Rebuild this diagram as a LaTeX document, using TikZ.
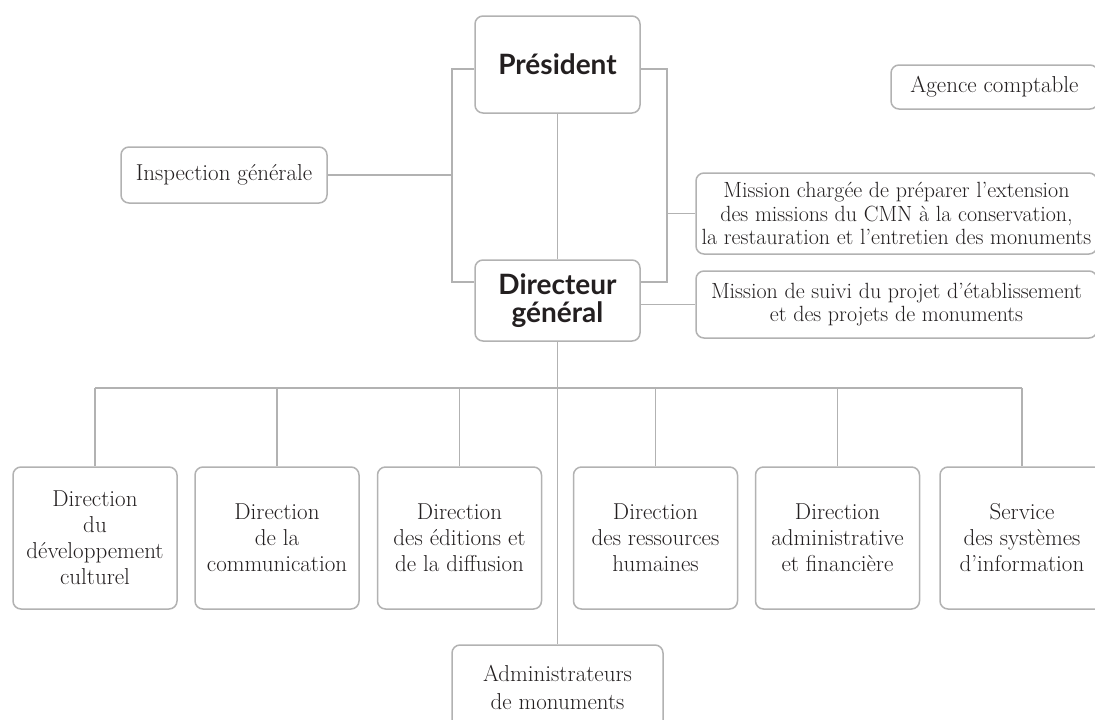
\documentclass[tikz,border=0pt]{standalone}
\usepackage{fontspec}
\newfontfamily\boldsans{Lato}
\usetikzlibrary{calc}
\definecolor{linegray}{RGB}{178,178,178}
\definecolor{txt}{RGB}{35,31,32}
\tikzset{
  box/.style={draw=linegray, line width=1.5pt, rounded corners=8pt, fill=white,
    text=txt, align=center, inner sep=0pt,
    font=\fontsize{23}{25}\selectfont},
  headbox/.style={box, font=\boldsans\bfseries\fontsize{28}{28}\selectfont},
  lowbox/.style={box, minimum width=164pt, minimum height=142pt, font=\fontsize{23}{26}\selectfont},
  missionbox/.style={box, minimum width=401pt, font=\fontsize{22}{23.5}\selectfont},
  conn/.style={draw=linegray, line width=1.5pt},
}
\begin{document}
\begin{tikzpicture}[x=1pt,y=-1pt]
\useasboundingbox (0,0) rectangle (1095,720);
\clip (0,0) rectangle (1095,720);
% top level
\node[headbox, minimum width=165pt, minimum height=97pt] (pres) at (557.5,64.5) {Président};
\node[headbox, minimum width=165pt, minimum height=81pt] (dg) at (557.5,300.5) {Directeur\\général};
\node[box, minimum width=206pt, minimum height=56pt] (insp) at (224,175) {Inspection générale};
\node[box, minimum width=207pt, minimum height=44pt] (agence) at (994.5,87) {Agence comptable};
\node[missionbox, minimum height=81pt] (mch) at (896.5,213.5) {Mission chargée de préparer l’extension\\des missions du CMN à la conservation,\\la restauration et l’entretien des monuments};
\node[missionbox, minimum height=67pt] (msuivi) at (896.5,304.5) {Mission de suivi du projet d’établissement\\et des projets de monuments};
% bottom row
\node[lowbox] (d1) at (95,538) {Direction\\du\\développement\\culturel};
\node[lowbox] (d2) at (277,538) {Direction\\de la\\communication};
\node[lowbox] (d3) at (459.5,538) {Direction\\des éditions et\\de la diffusion};
\node[lowbox] (d4) at (655.5,538) {Direction\\des ressources\\humaines};
\node[lowbox] (d5) at (837.5,538) {Direction\\administrative\\et financière};
\node[lowbox] (d6) at (1022,538) {Service\\des systèmes\\d’information};
\node[box, minimum width=211pt, minimum height=85pt, font=\fontsize{23}{28}\selectfont] (adm) at (557.5,687.5) {Administrateurs\\de monuments};
% helper coordinates
\coordinate (L) at (452,0);
\coordinate (R) at (667,0);
\coordinate (bus) at (0,388);
% connectors
\path[conn] ($(pres.west)+(0,4.5)$) -| ($(L)+(0,282)$) -- ($(dg.west)+(0,-18.5)$);
\path[conn] ($(pres.east)+(0,4.5)$) -| ($(R)+(0,282)$) -- ($(dg.east)+(0,-18.5)$);
\path[conn] (insp.east) -- (insp.east -| L);
\path[conn] (mch.west) -- (mch.west -| R);
\path[conn] (dg.east |- msuivi.west) -- (msuivi.west);
\path[conn] (pres.south) -- (dg.north);
\path[conn] (dg.south) -- (adm.north);
\path[conn] (d1.north |- bus) -- (d6.north |- bus);
\foreach \n in {d1,d2,d3,d4,d5,d6} { \path[conn] (\n.north) -- (\n.north |- bus); }
\end{tikzpicture}
\end{document}
